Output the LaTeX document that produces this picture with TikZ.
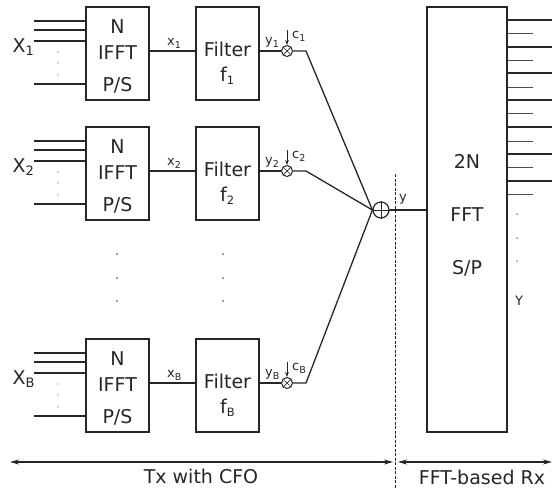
\documentclass[tikz,border=0pt]{standalone}
\usepackage{fontspec}
\setmainfont{DejaVu Sans}
\usetikzlibrary{arrows.meta}
% lowered subscript in a given size
\newcommand\lowsub[2]{\raisebox{-3pt}{\fontsize{#1}{#1}\selectfont #2}}

\begin{document}
\begin{tikzpicture}[x=1pt,y=-1pt,
  blk/.style={draw=black!85, line width=1.8pt, minimum width=63pt, minimum height=93pt, inner sep=0pt},
  wire/.style={line width=1.3pt, draw=black!85},
  thinwire/.style={line width=1.3pt, draw=black!85},
  big/.style={font=\fontsize{19}{19}\selectfont, inner sep=0pt, anchor=base, text=black!85},
  lab/.style={font=\fontsize{13}{13}\selectfont, inner sep=0pt, anchor=base west, text=black!85},
  mult/.style={draw=black!85, circle, line width=1pt, minimum size=11pt, inner sep=0pt},
  summer/.style={draw=black!85, circle, line width=1.2pt, minimum size=16pt, inner sep=0pt},
  dot/.style={circle, fill=black!75, inner sep=0pt, minimum size=1.8pt},
  tip/.style={-{Stealth[length=5pt,width=3.6pt]}, line width=1pt, draw=black!85},
  span/.style={{Stealth[length=9pt,width=5pt]}-{Stealth[length=9pt,width=5pt]}, line width=1.1pt, draw=black!85}
]
\useasboundingbox (0,0) rectangle (552,488);

% summing point and receiver block
\node[summer] (add) at (381,210) {};
\draw[line width=0.8pt, black!85] (add.north) -- (add.south) (add.west) -- (add.east);
\node[blk, minimum width=80pt, minimum height=425pt] (fft) at (467,219.5) {};
\node[big] at (467,168) {2N};
\node[big] at (467,221) {FFT};
\node[big] at (467,274) {S/P};

% transmitter branches
\foreach \r/\dy/\s in {1/0/1, 2/120/2, 3/332/B} {
  \node[blk] (ifft\r) at (117.5,53.5+\dy) {};
  \node[blk] (filt\r) at (227.5,53.5+\dy) {};
  \node[big] at (117.5,33.3+\dy) {N};
  \node[big] at (117.5,59+\dy) {IFFT};
  \node[big] at (117.5,91.5+\dy) {P/S};
  \node[big] at (227.5,56+\dy) {Filter};
  \node[big, anchor=base west] at (220,81.5+\dy) {f\lowsub{11.5}{\s}};
  \node[big, anchor=base west] (in\r) at (12.5,52+\dy) {X\lowsub{13}{\s}};
  % parallel inputs
  \foreach \yy in {21,30,41,84}
    \draw[line width=1.3pt, black!85] (ifft\r.west |- 0,\yy+\dy) -- ++(-51,0);
  \foreach \yy in {52,63,75}
    \node[dot, minimum size=1.3pt] at (58,\yy+\dy) {};
  % mixer with carrier offset
  \node[mult] (m\r) at (287,51+\dy) {};
  \draw[line width=0.7pt, black!85] (m\r.north west) -- (m\r.south east) (m\r.north east) -- (m\r.south west);
  \coordinate (k\r) at (306,51+\dy);
  \path (m\r.north) ++(0,-15) coordinate (ct\r);
  \draw[tip] (ct\r) -- (m\r.north);
  \draw[wire, line width=1.7pt] (ifft\r.east |- m\r) -- (filt\r.west |- m\r);
  \draw[thinwire] (filt\r.east |- m\r) -- (m\r.west);
  \draw[thinwire] (m\r.east) -- (k\r) -- (add.west);
  \node[lab] at (167,45+\dy) {x\lowsub{9.5}{\s}};
  \node[lab] at (265,44+\dy) {y\lowsub{9.5}{\s}};
  \node[lab] at (292,38+\dy) {c\lowsub{9.5}{\s}};
}

% vertical ellipsis between branches
\foreach \xx in {117,223}
  \foreach \yy in {254,278,301}
    \node[dot] at (\xx,\yy) {};

% summed signal into the receiver
\draw[thinwire] (add.east) -- (fft.west |- add);
\node[lab] at (399,201) {y};

% parallel outputs of the receiver
\foreach \yy in {20,47,73,100,127,154,181}
  \draw[line width=1.4pt, black!85] (fft.east |- 0,\yy) -- (552,\yy);
\foreach \yy in {33.5,60,87,113,141,167,194}
  \draw[line width=0.9pt, black!70] (fft.east |- 0,\yy) -- ++(25,0);
\foreach \yy in {214,238,261}
  \node[dot, minimum size=1.5pt] at (517,\yy) {};
\node[lab, anchor=base] at (519,305) {Y};

% boundary between transmitter and receiver
\coordinate (dtop) at (395.5,174);
\coordinate (dbot) at (395.5,488);
\draw[line width=0.9pt, black!85, dash pattern=on 3pt off 1.5pt] (dtop) -- (dbot);

\coordinate (txl) at (10,462);
\coordinate (txr) at (393,462);
\coordinate (rxl) at (398,462);
\coordinate (rxr) at (552,462);
\draw[span] (txl) -- (txr);
\draw[span] (rxl) -- (rxr);
\node[big] at (201,483) {Tx with CFO};
\node[big] at (482,484) {FFT-based Rx};
\end{tikzpicture}
\end{document}
